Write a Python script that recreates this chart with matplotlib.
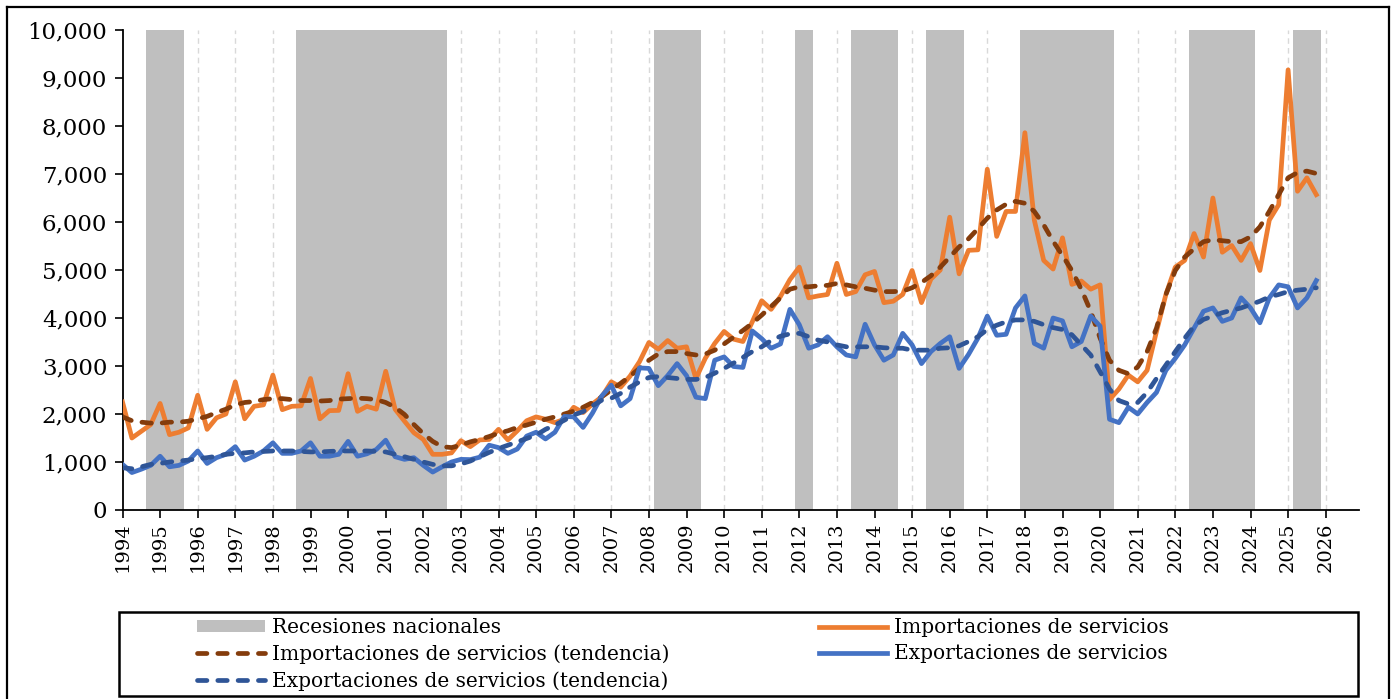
import matplotlib
matplotlib.use("Agg")
import matplotlib.pyplot as plt
from matplotlib.patches import Patch, Rectangle
from matplotlib.lines import Line2D
from matplotlib.ticker import FuncFormatter, MultipleLocator
import numpy as np

# ---------------- data (quarterly, 1994Q1 - 2025Q4) ----------------
start_year = 1994
importaciones = [
    2250, 1500, 1640, 1780, 2220, 1570, 1620, 1710, 2390, 1680, 1920, 2000,
    2670, 1900, 2160, 2190, 2810, 2090, 2160, 2170, 2740, 1900, 2070, 2075,
    2840, 2055, 2160, 2100, 2890, 2100, 1850, 1610, 1470, 1160, 1160, 1190,
    1444, 1320, 1460, 1470, 1680, 1460, 1650, 1860, 1940, 1890, 1820, 1890,
    2140, 2030, 2210, 2360, 2670, 2560, 2790, 3090, 3490, 3350, 3530, 3370,
    3400, 2740, 3160, 3470, 3720, 3560, 3510, 3920, 4360, 4180, 4450, 4800,
    5060, 4420, 4460, 4490, 5140, 4490, 4550, 4900, 4970, 4320, 4350, 4490,
    4990, 4320, 4810, 5000, 6100, 4920, 5410, 5420, 7100, 5700, 6220, 6220,
    7860, 6040, 5200, 5020, 5670, 4700, 4770, 4600, 4690, 2300, 2520, 2810,
    2670, 2910, 3720, 4490, 5060, 5200, 5760, 5270, 6500, 5370, 5510, 5200,
    5550, 4990, 6040, 6360, 9170, 6640, 6920, 6570,
]
importaciones_tend = [
    1940, 1860, 1830, 1810, 1810, 1830, 1830, 1850, 1900, 1950, 2030, 2100,
    2190, 2240, 2260, 2300, 2320, 2320, 2300, 2280, 2280, 2270, 2280, 2310,
    2320, 2330, 2320, 2300, 2240, 2140, 1990, 1780, 1590, 1430, 1320, 1300,
    1350, 1420, 1470, 1530, 1600, 1650, 1720, 1770, 1830, 1890, 1940, 2000,
    2060, 2140, 2240, 2360, 2500, 2640, 2790, 2950, 3120, 3250, 3300, 3300,
    3260, 3230, 3250, 3330, 3460, 3600, 3740, 3890, 4060, 4240, 4420, 4600,
    4650, 4650, 4670, 4680, 4720, 4690, 4650, 4620, 4580, 4550, 4550, 4560,
    4630, 4740, 4880, 5060, 5270, 5480, 5650, 5860, 6080, 6250, 6370, 6430,
    6390, 6220, 5940, 5600, 5300, 4990, 4600, 4140, 3580, 3120, 2910, 2840,
    2980, 3300, 3790, 4490, 4990, 5270, 5440, 5590, 5630, 5610, 5590, 5590,
    5690, 5900, 6220, 6570, 6920, 7030, 7060, 7010,
]
exportaciones = [
    950, 780, 850, 930, 1120, 900, 930, 1020, 1230, 970, 1090, 1160,
    1320, 1040, 1120, 1230, 1400, 1180, 1180, 1230, 1400, 1120, 1120, 1160,
    1430, 1120, 1170, 1260, 1455, 1110, 1055, 1090, 930, 790, 900, 1000,
    1055, 1050, 1100, 1350, 1300, 1180, 1270, 1540, 1620, 1480, 1620, 1950,
    1940, 1720, 2020, 2380, 2600, 2170, 2320, 2960, 2950, 2590, 2800, 3050,
    2800, 2350, 2320, 3120, 3190, 2990, 2970, 3730, 3570, 3370, 3460, 4180,
    3860, 3370, 3440, 3610, 3400, 3230, 3190, 3870, 3440, 3120, 3230, 3680,
    3440, 3050, 3300, 3470, 3610, 2950, 3240, 3580, 4040, 3640, 3660, 4210,
    4460, 3470, 3370, 4000, 3940, 3400, 3510, 4040, 3830, 1890, 1820, 2140,
    2000, 2240, 2450, 2910, 3160, 3440, 3790, 4140, 4210, 3930, 4000, 4420,
    4210, 3900, 4420, 4690, 4650, 4210, 4420, 4780,
]
exportaciones_tend = [
    880, 860, 900, 950, 970, 1000, 1020, 1040, 1070, 1090, 1120, 1160,
    1180, 1190, 1210, 1220, 1230, 1230, 1230, 1220, 1210, 1210, 1220, 1230,
    1230, 1230, 1230, 1220, 1210, 1160, 1110, 1055, 1000, 950, 920, 920,
    960, 1020, 1110, 1200, 1280, 1350, 1420, 1490, 1560, 1680, 1770, 1870,
    1980, 2050, 2170, 2290, 2330, 2430, 2560, 2670, 2760, 2780, 2760, 2740,
    2720, 2720, 2760, 2850, 2950, 3060, 3180, 3300, 3400, 3530, 3620, 3670,
    3680, 3610, 3540, 3500, 3440, 3400, 3400, 3400, 3400, 3380, 3370, 3370,
    3330, 3330, 3330, 3370, 3380, 3420, 3510, 3610, 3760, 3850, 3920, 3960,
    3960, 3930, 3860, 3800, 3760, 3650, 3440, 3230, 2880, 2520, 2280, 2210,
    2240, 2450, 2740, 3020, 3300, 3580, 3830, 3970, 4040, 4110, 4160, 4210,
    4280, 4350, 4440, 4490, 4550, 4580, 4600, 4630,
]
recesion_inicio = [1994.625, 1998.625, 2008.125, 2011.875, 2013.375, 2015.375, 2017.875, 2022.375, 2025.125]
recesion_fin = [1995.625, 2002.625, 2009.375, 2012.375, 2014.625, 2016.375, 2020.375, 2024.125, 2025.875]
anios = list(range(1994, 2027))

labels = {
    "rec": "Recesiones nacionales",
    "imp": "Importaciones de servicios",
    "impt": "Importaciones de servicios (tendencia)",
    "exp": "Exportaciones de servicios",
    "expt": "Exportaciones de servicios (tendencia)",
}

# ---------------- style ----------------
FONT = "DejaVu Serif"
plt.rcParams["font.family"] = FONT
C_IMP = "#ED7D31"
C_IMPT = "#843C0C"
C_EXP = "#4472C4"
C_EXPT = "#2F5597"
C_REC = "#BFBFBF"

W, H = 1395, 699
fig = plt.figure(figsize=(W / 100, H / 100), dpi=100)

x0, x1 = 122.5, 1359.0
y0, y1 = 510.0, 30.0
ax = fig.add_axes([x0 / W, (H - y0) / H, (x1 - x0) / W, (y0 - y1) / H])

n = len(importaciones)
t = start_year + np.arange(n) / 4.0

# gridlines
for yr in anios[1:]:
    ax.axvline(yr, color="#D9D9D9", lw=1.0, ls=(0, (4, 3)), zorder=0)

# recession shading
for a, b in zip(recesion_inicio, recesion_fin):
    ax.axvspan(a, b, color=C_REC, lw=0, zorder=1)

lw = 3.4
dash = (0, (2.0, 2.3))
ax.plot(t, importaciones, color=C_IMP, lw=lw, zorder=3, solid_joinstyle="round")
ax.plot(t, importaciones_tend, color=C_IMPT, lw=lw, ls=dash, dash_capstyle="round", zorder=4)
ax.plot(t, exportaciones, color=C_EXP, lw=lw, zorder=5, solid_joinstyle="round")
ax.plot(t, exportaciones_tend, color=C_EXPT, lw=lw, ls=dash, dash_capstyle="round", zorder=6)

ax.set_xlim(1994, 1994 + (x1 - x0) / 37.6)
ax.set_ylim(0, 10000)
ax.yaxis.set_major_locator(MultipleLocator(1000))
ax.yaxis.set_major_formatter(FuncFormatter(lambda v, p: f"{int(v):,}"))
ax.set_xticks(anios)
ax.set_xticklabels([str(a) for a in anios], rotation=90)
ax.tick_params(axis="y", labelsize=16.5, length=6, width=1.2, direction="out", pad=5)
ax.tick_params(axis="x", labelsize=14, length=6, width=1.2, direction="out", pad=3)
for s in ["top", "right"]:
    ax.spines[s].set_visible(False)
for s in ["left", "bottom"]:
    ax.spines[s].set_linewidth(1.3)
ax.set_facecolor("white")

# outer frame (figure coordinates)
def fx(px):
    return px / W

def fy(py):
    return 1 - py / H

frame_kw = dict(color="black", lw=1.6, transform=fig.transFigure)
fig.add_artist(Line2D([fx(7), fx(7)], [fy(6.5), fy(H + 5)], **frame_kw))
fig.add_artist(Line2D([fx(7), fx(1389)], [fy(6.5), fy(6.5)], **frame_kw))
fig.add_artist(Line2D([fx(1389), fx(1389)], [fy(6.5), fy(H + 5)], **frame_kw))

# legend box
fig.add_artist(Rectangle((fx(119), fy(696)), fx(1358) - fx(119), fy(612) - fy(696),
                         transform=fig.transFigure, fill=False, ec="black", lw=1.8))

handles = [
    Patch(facecolor=C_REC, edgecolor="none"),
    Line2D([], [], color=C_IMPT, lw=lw, ls=dash, dash_capstyle="round"),
    Line2D([], [], color=C_EXPT, lw=lw, ls=dash, dash_capstyle="round"),
    Line2D([], [], color=C_IMP, lw=lw),
    Line2D([], [], color=C_EXP, lw=lw),
]
names = [labels["rec"], labels["impt"], labels["expt"], labels["imp"], labels["exp"]]
fs = 14.5
fpx = fs * 100 / 72
fig.legend(handles, names, loc="upper left", bbox_to_anchor=(fx(197), fy(618)),
           ncol=2, frameon=False, fontsize=fs, borderpad=0, borderaxespad=0,
           handlelength=68 / fpx, handleheight=0.5,
           handletextpad=7 / fpx, columnspacing=7.4, labelspacing=0.36)

fig.savefig("out.png", dpi=100, facecolor="white")
